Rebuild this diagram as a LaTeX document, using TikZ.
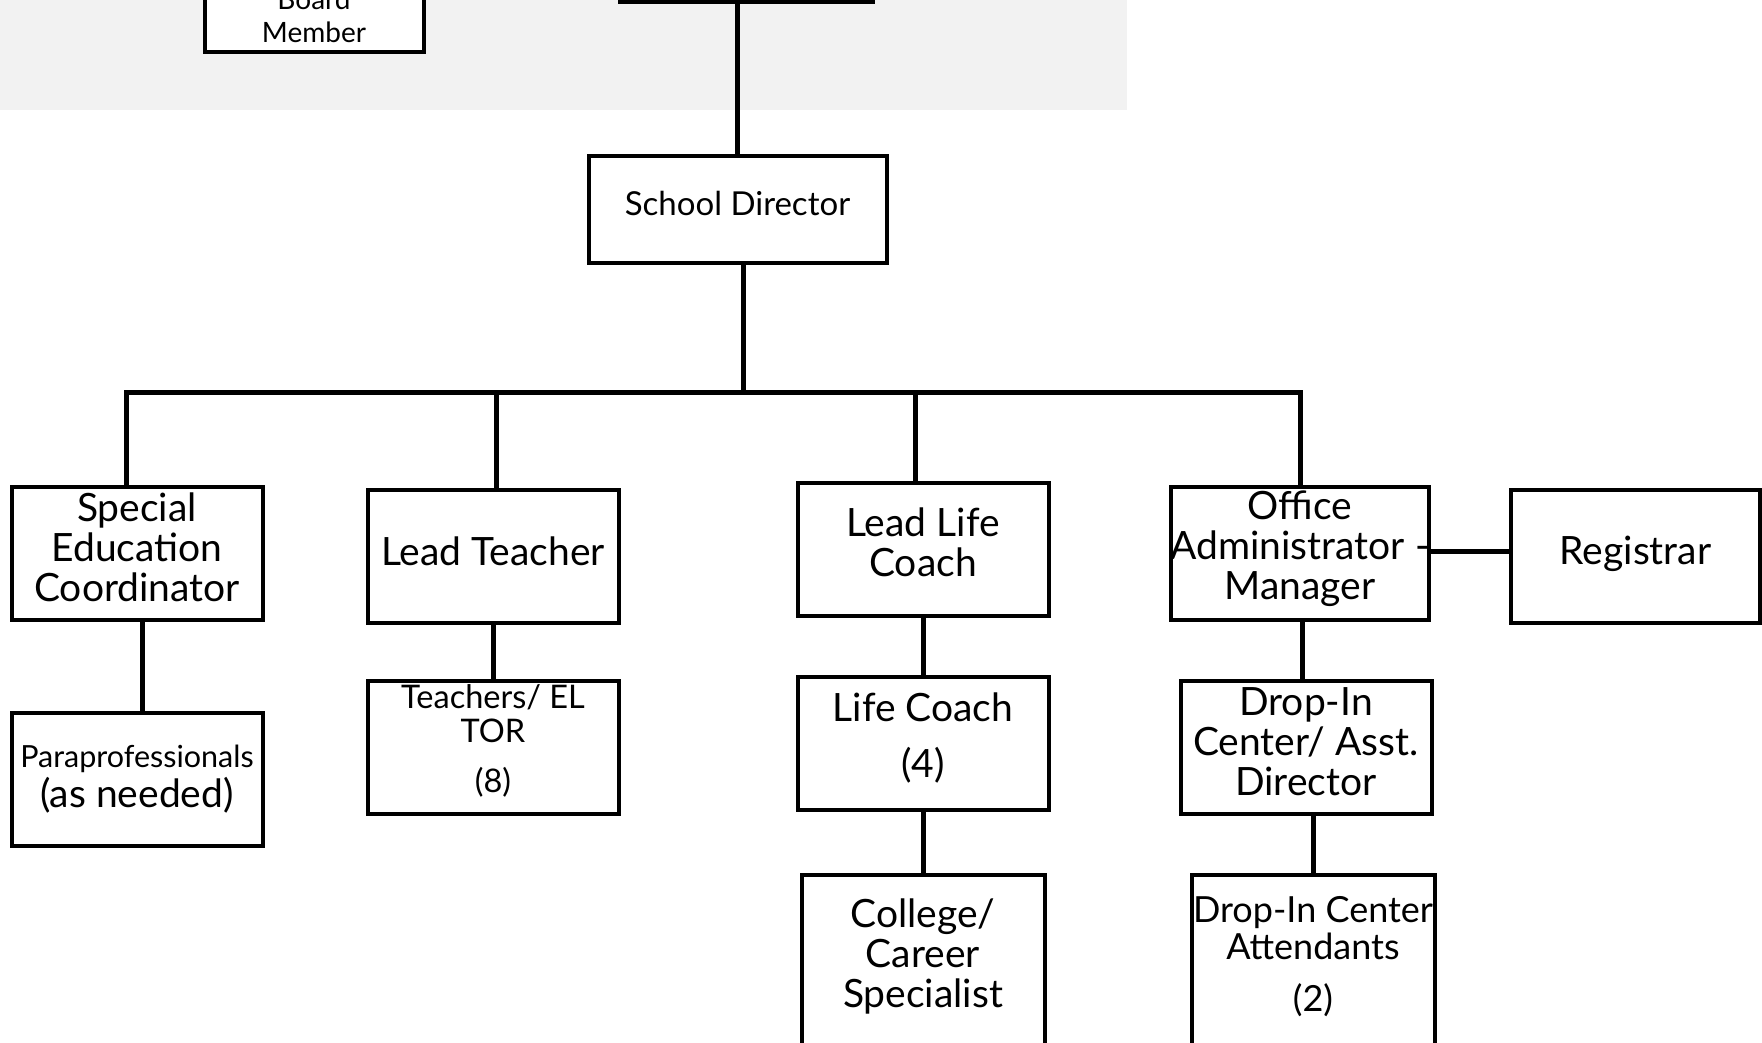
\documentclass[tikz,border=0pt]{standalone}
\usepackage{fontspec}
\setmainfont{Lato}
\usetikzlibrary{positioning}
\definecolor{bandgray}{HTML}{F2F2F2}
\newcommand\bigtxt{\fontsize{39}{40}\selectfont}
\newcommand\midtxt{\fontsize{33}{37}\selectfont}
\newcommand\smalltxt{\fontsize{30.5}{34}\selectfont}
\newcommand\tinytxt{\fontsize{28}{33}\selectfont}
% empty last line that lifts the text inside its box
\newcommand\lift[1]{\\[#1]\mbox{}}

\tikzset{
  post/.style={draw, line width=4pt, fill=white, align=center, inner sep=0pt,
    minimum width=251pt, minimum height=133pt, font=\bigtxt},
  link/.style={line width=5pt},
}

\begin{document}
\begin{tikzpicture}[x=1pt, y=-1pt]
  \useasboundingbox (0,0) rectangle (1762,1043);

  % 1. board band at the top
  \fill[bandgray] (0,0) rectangle (1127,110);
  \node[post, minimum width=219pt, minimum height=73pt, font=\tinytxt] (board) at (314,16) {Board\\Member};
  \node[post, minimum width=253pt, minimum height=104pt] (chair) at (746,-50) {};
  \node[post, minimum width=298pt, minimum height=107pt, font=\midtxt] (director) at (737.5,210) {School Director\lift{-24pt}};

  % 2. first row of posts
  \node[post] (sped) at (137,553) {Special\\Education\\Coordinator\lift{-29pt}};
  \node[post] (lead) at (493,556.5) {Lead Teacher\lift{-29pt}};
  \node[post] (llc) at (923,549) {Lead Life\\Coach\lift{-27pt}};
  \node[post] (office) at (1300,553) {Office\\Administrator -\\Manager\lift{-25pt}};
  \node[post, minimum width=249pt] (registrar) at (1635.5,556.5) {Registrar\lift{-28pt}};

  % 3. second and third rows
  \node[post] (para) at (137,779.5) {{\smalltxt Paraprofessionals}\\(as needed)};
  \node[post, font=\fontsize{32.5}{34}\selectfont] (teachers) at (493,747.5) {Teachers/ EL\\TOR\\[16pt](8)\lift{-17pt}};
  \node[post] (coach) at (923,743) {Life Coach\\[16pt](4)\lift{-24pt}};
  \node[post] (dropin) at (1306,747.5) {Drop-In\\Center/ Asst.\\Director\lift{-29pt}};
  \node[post, anchor=north, minimum width=243pt, minimum height=260pt] (college) at (923,873) {College/\\Career\\Specialist\lift{64pt}};
  \node[post, anchor=north, minimum width=243pt, minimum height=260pt, font=\fontsize{36}{37}\selectfont] (attend) at (1313,873) {Drop-In Center\\Attendants\\[15pt](2)\lift{66pt}};

  % 4. connectors
  \coordinate (busL) at (126,392);
  \coordinate (busR) at (1300,392);
  \draw[link] (director.north) -- (director.north |- chair.south);
  \draw[link] ([xshift=6pt]director.south) -- ([xshift=6pt]director.south |- busL);
  \draw[link] (busL |- sped.north) -- (busL) -- (busR) -- (busR |- office.north);
  \draw[link] ([xshift=3pt]lead.north) -- ([xshift=3pt]lead.north |- busL);
  \draw[link] ([xshift=-8pt]llc.north) -- ([xshift=-8pt]llc.north |- busL);
  \draw[link] ([xshift=5pt]sped.south) -- ([xshift=5pt]sped.south |- para.north);
  \draw[link] (lead.south) -- (teachers.north);
  \draw[link] (llc.south) -- (coach.north);
  \draw[link] (coach.south) -- (college.north);
  \draw[link] ([xshift=2pt]office.south) -- ([xshift=2pt]office.south |- dropin.north);
  \draw[link] ([xshift=7pt]dropin.south) -- ([xshift=7pt]dropin.south |- attend.north);
  \draw[link] ([yshift=2pt]office.east) -- ([yshift=2pt]office.east -| registrar.west);
\end{tikzpicture}
\end{document}
